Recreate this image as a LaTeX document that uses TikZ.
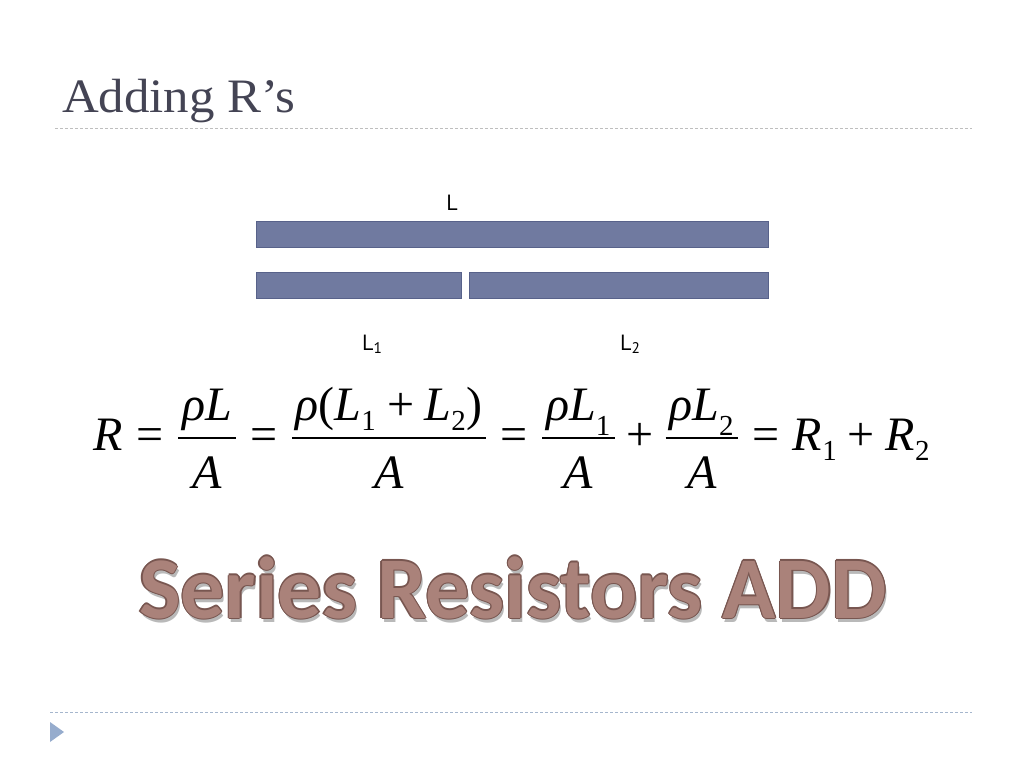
\RequirePackage{fix-cm}
\documentclass[tikz,border=0pt]{standalone}
\usepackage{amsmath}
\usepackage{fontspec}
\setmainfont{Liberation Serif}
\newfontfamily\titlefont[FakeStretch=1.06]{Liberation Serif}
\newfontfamily\labelfont{PT Sans}
\newfontfamily\bigfont{Carlito}
\DeclareMathSizes{48}{48}{29}{21}
\definecolor{titlecol}{RGB}{68,68,84}
\definecolor{barfill}{RGB}{112,122,160}
\definecolor{barline}{RGB}{88,98,138}
\definecolor{dashtop}{RGB}{190,190,190}
\definecolor{dashbot}{RGB}{165,182,205}
\definecolor{tri}{RGB}{150,172,205}
\definecolor{bigfill}{RGB}{170,130,122}
\definecolor{bigline}{RGB}{120,86,80}
\definecolor{bigshadow}{RGB}{185,185,185}
\newcommand\mi[1]{\text{\itshape #1}}
\newcommand\myeq{\mathrel{\text{=}}}
\newcommand\myplus{\mathbin{\text{+}}}
\newcommand\tx[1]{\text{#1}}
\newcommand\sub[1]{_{\text{\raisebox{-3pt}[\height][\depth]{#1}}}}
\newcommand\lowr[2]{\text{\raisebox{-#1}[\height][\depth]{$\displaystyle #2$}}}
\newcommand\myfrac[2]{\genfrac{}{}{2.4pt}{0}{\hspace{0.08em}\lowr{3pt}{#1}\hspace{0.08em}}{\lowr{6pt}{#2}}}
\newcommand\bigtext{\bigfont\bfseries Series Resistors ADD}
\begin{document}
\begin{tikzpicture}[x=1pt,y=-1pt,
  bar/.style={draw=barline,fill=barfill,line width=0.8pt},
  sep/.style={line width=1pt,dash pattern=on 3pt off 2pt},
  lab/.style={inner sep=0pt,font=\labelfont\fontsize{22}{24}\selectfont,text=black},
  bigtxt/.style={inner sep=0pt,anchor=base,font=\fontsize{88}{90}\selectfont}]
\useasboundingbox[fill=white] (0,0) rectangle (1024,768);
% title
\node[anchor=base west,inner sep=0pt,text=titlecol,font=\titlefont\fontsize{48}{52}\selectfont] (title) at (62,112) {Adding R’s};
\draw[sep,draw=dashtop] (55,128) coordinate (t1) -- (972,128) coordinate (t2);
% bars
\path[bar] (256,221) rectangle (768,247);
\path[bar] (256,272) rectangle (461,298);
\path[bar] (469,272) rectangle (768,298);
\node[lab,anchor=base] (L) at (452,210) {L};
\node[lab,anchor=base west] (L1) at (362,350) {L\textsubscript{1}};
\node[lab,anchor=base west] (L2) at (620,350) {L\textsubscript{2}};
% equation
\node[inner sep=0pt,anchor=base,font=\fontsize{48}{52}\selectfont] (eq) at (512,450)
 {$\displaystyle \mi{R} \myeq \myfrac{\mi{ρL}}{\mi{A}} \myeq
   \myfrac{\mi{ρ}\tx{(}\mi{L}\sub{1} \myplus \mi{L}\sub{2}\tx{)}}{\mi{A}} \myeq
   \myfrac{\mi{ρL}\sub{1}}{\mi{A}} \myplus \myfrac{\mi{ρL}\sub{2}}{\mi{A}}
   \myeq \mi{R}\sub{1} \myplus \mi{R}\sub{2}$};
% big text
\node[bigtxt,text=bigshadow] (bigsh) at (515,622) {\bigtext};
\foreach \dx/\dy in {1.2/0,-1.2/0,0/1.2,0/-1.2,0.85/0.85,0.85/-0.85,-0.85/0.85,-0.85/-0.85}
  \node[bigtxt,text=bigline] at (513+\dx,618+\dy) {\bigtext};
\node[bigtxt,text=bigfill] (big) at (513,618) {\bigtext};
% footer
\draw[sep,draw=dashbot] (50,712) coordinate (b1) -- (972,712) coordinate (b2);
\fill[tri] (50,722) coordinate (p1) -- (64,732) coordinate (p2) -- (50,742) coordinate (p3) -- cycle;
\end{tikzpicture}
\end{document}
